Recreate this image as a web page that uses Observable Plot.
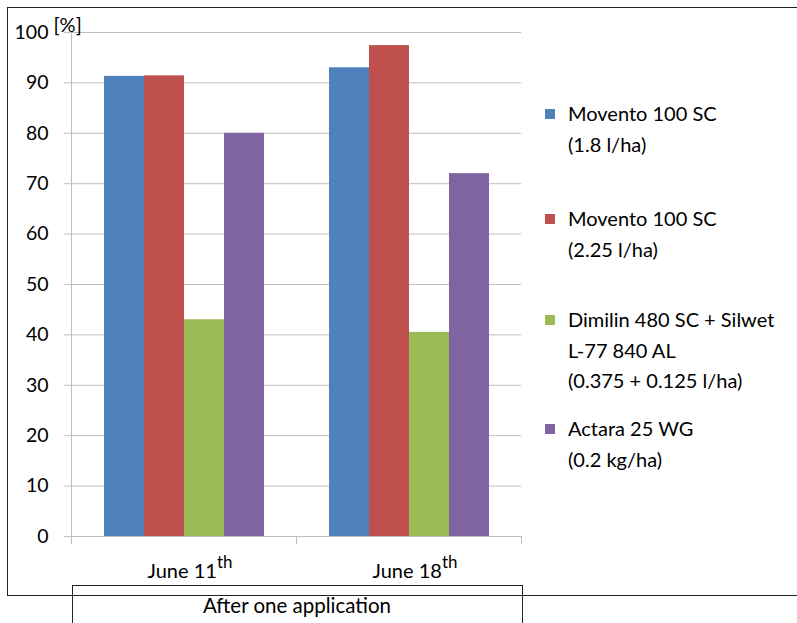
<!DOCTYPE html>
<html><head><meta charset="utf-8">
<script src="https://cdn.jsdelivr.net/npm/d3@7"></script>
<script src="https://cdn.jsdelivr.net/npm/@observablehq/plot@0.6"></script>
<style>body{margin:0;background:#fff}</style>
</head><body><div id="chart"></div>
<script>
// ---- data ----
const dates = ["June 11", "June 18"];
const dateSuffix = "th";
const series = [
  "Movento 100 SC (1.8 l/ha)",
  "Movento 100 SC (2.25 l/ha)",
  "Dimilin 480 SC + Silwet L-77 840 AL (0.375 + 0.125 l/ha)",
  "Actara 25 WG (0.2 kg/ha)"
];
const legendLines = [
  ["Movento 100 SC", "(1.8 l/ha)"],
  ["Movento 100 SC", "(2.25 l/ha)"],
  ["Dimilin 480 SC + Silwet", "L-77 840 AL", "(0.375 + 0.125 l/ha)"],
  ["Actara 25 WG", "(0.2 kg/ha)"]
];
const valuesJune11 = [91.3, 91.4, 43.0, 80.0];
const valuesJune18 = [93.0, 97.4, 40.5, 72.0];
const yTicks = [0, 10, 20, 30, 40, 50, 60, 70, 80, 90, 100];
const yUnit = "[%]";
const groupLabel = "After one application";
const colors = ["#4F81BD", "#C0504D", "#9BBB59", "#8064A2"];

const table = [valuesJune11, valuesJune18].flatMap((vals, di) =>
  vals.map((v, si) => ({date: dates[di], series: series[si], value: v})));

// ---- layout ----
const W = 797, H = 623, ML = 71, MR = 276, MT = 32, MB = 87;
const FONT = "Lato, 'Open Sans', sans-serif";
const AXIS_GRAY = "#bfbfbf";

const plot = Plot.plot({
  width: W, height: H,
  marginLeft: ML, marginRight: MR, marginTop: MT, marginBottom: MB,
  style: {fontFamily: FONT, background: "white", color: "#000", overflow: "visible"},
  fx: {domain: dates, padding: 0, axis: null},
  x: {domain: series, paddingInner: 0, paddingOuter: 0.76, axis: null},
  y: {domain: [0, 100], axis: null},
  color: {domain: series, range: colors},
  marks: [
    Plot.gridY(yTicks, {stroke: AXIS_GRAY, strokeOpacity: 1}),
    Plot.axisY(yTicks, {label: null, tickSize: 7, tickPadding: 16, fontSize: 19.5, stroke: AXIS_GRAY, fill: "#000"}),
    Plot.barY(table, {fx: "date", x: "series", y: "value", fill: "series", inset: 0}),
    Plot.text(dates, {fx: d => d, text: d => d, frameAnchor: "bottom", lineAnchor: "middle", dy: 35, dx: 6, fontSize: 20, fill: "#000"}),
    Plot.text([yUnit], {fx: () => dates[0], text: d => d, frameAnchor: "top-left", lineAnchor: "middle", textAnchor: "start", dx: -18, dy: -7, fontSize: 20, fill: "#000"})
  ]
});

const svg = d3.select(plot);

// superscript suffix on date labels
svg.selectAll("text").filter(function () { return dates.includes(this.textContent); })
  .append("tspan").attr("dy", -10).attr("font-size", 17).text(dateSuffix);

const fx = plot.scale("fx");
const bandEdges = [fx.apply(dates[0])].concat(dates.map(d => fx.apply(d) + fx.bandwidth));
const x0 = bandEdges[0], x1 = bandEdges[bandEdges.length - 1];
const yBottom = H - MB;

const deco = svg.append("g").attr("text-anchor", "start");
// y axis line
deco.append("line").attr("x1", x0 + 0.5).attr("x2", x0 + 0.5).attr("y1", MT).attr("y2", yBottom)
  .attr("stroke", AXIS_GRAY);
// x axis ticks at band edges
bandEdges.forEach(e => deco.append("line").attr("x1", e + 0.5).attr("x2", e + 0.5)
  .attr("y1", yBottom).attr("y2", yBottom + 8).attr("stroke", AXIS_GRAY));

// outer border
deco.append("rect").attr("x", 7.5).attr("y", 7.5).attr("width", W + 10).attr("height", 588)
  .attr("fill", "none").attr("stroke", "#222");
// group label box
deco.append("rect").attr("x", x0 + 1.5).attr("y", 585.5).attr("width", x1 - x0).attr("height", 60)
  .attr("fill", "none").attr("stroke", "#222");
deco.append("text").attr("x", (x0 + x1) / 2 + 1).attr("y", 613).attr("text-anchor", "middle")
  .attr("font-family", FONT).attr("font-size", 20.5).attr("fill", "#000").text(groupLabel);

// legend
const color = plot.scale("color");
const itemBaselines = [121, 226, 327, 436];
const lineGap = 30.5;
legendLines.forEach((lines, i) => {
  const b = itemBaselines[i];
  deco.append("rect").attr("x", 545).attr("y", b - 12).attr("width", 10).attr("height", 10)
    .attr("fill", color.apply(series[i]));
  lines.forEach((t, j) => deco.append("text").attr("x", 568).attr("y", b + j * lineGap)
    .attr("text-anchor", "start")
    .attr("font-family", FONT).attr("font-size", 20).attr("fill", "#000").text(t));
});

document.getElementById("chart").append(plot);
</script>
</body></html>
